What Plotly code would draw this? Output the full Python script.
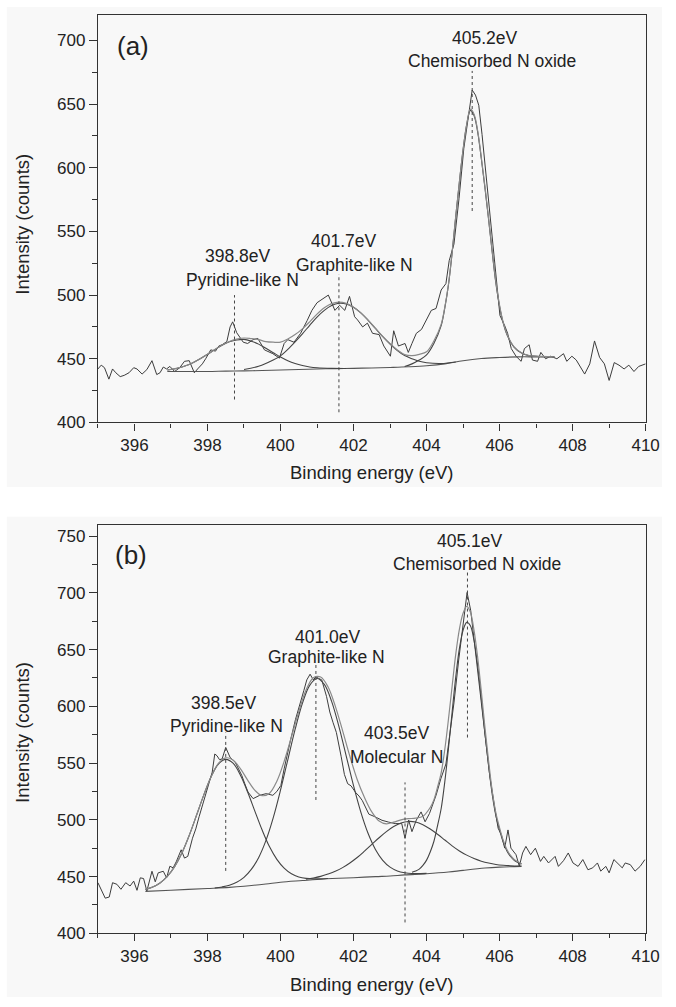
import plotly.graph_objects as go

# ---------------- Panel (a) data ----------------
RAW_A = [(395.0, 442), (395.09, 445), (395.18, 443), (395.3, 434), (395.4, 442), (395.49, 439),
         (395.61, 436), (395.72, 437), (395.85, 439), (395.98, 443), (396.07, 442), (396.21, 438),
         (396.34, 441.5), (396.48, 448.5), (396.61, 437.6), (396.7, 439), (396.79, 443.5), (396.88, 442),
         (396.97, 444), (397.1, 440), (397.24, 443), (397.37, 448), (397.5, 448.5), (397.64, 439),
         (397.73, 442), (397.86, 446), (397.95, 450), (398.09, 457), (398.22, 456), (398.31, 460),
         (398.4, 461), (398.53, 463.5), (398.62, 475), (398.69, 479), (398.8, 470.5), (398.98, 463),
         (399.1, 462), (399.25, 465), (399.38, 466), (399.56, 457), (399.79, 454), (399.97, 450.5),
         (400.1, 462), (400.2, 465), (400.37, 463), (400.55, 470), (400.73, 480), (400.86, 488),
         (401.0, 494), (401.15, 497), (401.31, 500), (401.49, 488), (401.62, 492), (401.76, 488),
         (401.89, 499), (402.03, 483), (402.11, 480.5), (402.25, 475), (402.38, 478), (402.52, 470),
         (402.7, 469), (402.83, 460), (403.01, 452), (403.1, 472), (403.23, 460), (403.41, 462),
         (403.5, 455), (403.6, 462), (403.72, 470), (403.86, 473), (403.99, 480.5), (404.13, 488),
         (404.26, 489.5), (404.4, 504), (404.53, 509), (404.62, 527), (404.75, 540), (404.89, 576),
         (405.02, 615), (405.16, 644), (405.25, 661), (405.34, 657), (405.43, 649), (405.52, 626),
         (405.65, 587), (405.78, 548.5), (405.92, 510), (406.01, 484), (406.14, 476), (406.22, 470),
         (406.32, 458), (406.45, 452), (406.59, 448), (406.68, 458), (406.81, 461), (406.9, 449),
         (407.04, 448), (407.13, 455), (407.26, 450), (407.4, 452), (407.57, 450), (407.75, 454),
         (407.84, 448), (407.98, 452), (408.1, 449), (408.2, 444), (408.33, 438), (408.47, 446),
         (408.6, 464), (408.74, 451), (408.87, 446), (409.0, 433), (409.14, 447), (409.27, 445),
         (409.41, 442), (409.54, 445), (409.68, 440), (409.81, 444), (410.0, 446)]

BASE_A = [(396.9, 440), (397.5, 440), (398.0, 440), (398.5, 440.3), (399.0, 440.5), (399.5, 440.8),
          (400.0, 441.2), (400.5, 441.6), (401.0, 442), (401.5, 442.3), (402.0, 442.5), (402.5, 442.8),
          (403.0, 443.2), (403.5, 443.7), (404.0, 444.5), (404.5, 446), (405.0, 448.5), (405.5, 450.2),
          (406.0, 451), (406.5, 451.5), (407.0, 451.5), (407.5, 451.5)]

PYR_A = [(396.9, 441.2), (397.2, 442.8), (397.4, 444.5), (397.6, 446.9), (397.8, 450), (398.0, 453.5),
         (398.2, 457.2), (398.4, 460.7), (398.6, 463.3), (398.8, 464.8), (399.0, 465.2), (399.2, 463.8),
         (399.4, 461.5), (399.6, 458.2), (399.8, 454.8), (400.0, 451.4), (400.2, 448.5), (400.4, 446.3),
         (400.6, 444.7), (400.8, 443.6), (401.0, 443.0), (401.4, 442.5), (401.8, 442.4)]

GRA_A = [(399.0, 441.6), (399.4, 444.1), (399.8, 449.0), (400.0, 452.3), (400.2, 457.4), (400.4, 463.3),
         (400.6, 469.6), (400.8, 476.3), (401.0, 482.7), (401.2, 488.0), (401.4, 491.8), (401.6, 493.6),
         (401.8, 493.1), (402.0, 490.4), (402.2, 486.0), (402.4, 480.2), (402.6, 473.8), (402.8, 467.4),
         (403.0, 461.6), (403.2, 456.5), (403.4, 452.5), (403.6, 450.1), (403.8, 448.0), (404.0, 446.9),
         (404.4, 446.3), (404.8, 447.5)]

OXI_A = [(403.4, 444), (403.6, 446), (403.8, 449), (404.0, 453), (404.2, 462), (404.4, 476), (404.5, 490),
         (404.6, 508), (404.7, 533), (404.8, 562), (404.9, 589), (405.0, 614), (405.1, 634), (405.2, 645),
         (405.3, 641), (405.4, 628), (405.5, 607), (405.6, 584), (405.7, 559), (405.8, 533), (405.9, 509),
         (406.0, 491), (406.1, 478), (406.2, 469), (406.4, 459), (406.6, 454.5), (406.8, 452.5),
         (407.0, 452), (407.5, 451.5)]

ENV_A = [(396.9, 441.2), (397.2, 442.8), (397.4, 444.5), (397.6, 446.9), (397.8, 450), (398.0, 453.5),
         (398.2, 457.2), (398.4, 460.8), (398.6, 463.6), (398.8, 465.4), (399.0, 466.3), (399.2, 465.8),
         (399.4, 465), (399.6, 463.5), (399.8, 463), (400.0, 463), (400.2, 465.5), (400.4, 469),
         (400.6, 473.5), (400.8, 479), (401.0, 485), (401.2, 490), (401.4, 493.3), (401.6, 494.5),
         (401.8, 493.5), (402.0, 490.5), (402.2, 486), (402.4, 480.3), (402.6, 473.9), (402.8, 467.6),
         (403.0, 461.9), (403.2, 456.9), (403.4, 453.3), (403.6, 452.5), (403.8, 453.5), (404.0, 455.5),
         (404.2, 464), (404.4, 477), (404.5, 490.5), (404.6, 508.5), (404.7, 533.5), (404.8, 562),
         (404.9, 589), (405.0, 614), (405.1, 634), (405.2, 646), (405.3, 642), (405.4, 629), (405.5, 608),
         (405.6, 585), (405.7, 560), (405.8, 534), (405.9, 510), (406.0, 492), (406.1, 478.5),
         (406.2, 469.5), (406.4, 459.3), (406.6, 454.7), (406.8, 452.6), (407.0, 452), (407.5, 451.5)]

DROP_A = [(398.74, 418, 500), (401.6, 408, 516.5), (405.25, 566, 676)]

LABELS_A = [("398.8eV", 398.84, 531), ("Pyridine-like N", 398.95, 511.6),
            ("401.7eV", 401.74, 542.7), ("Graphite-like N", 402.03, 524),
            ("405.2eV", 405.6, 701.8), ("Chemisorbed N oxide", 405.8, 683.6)]

# ---------------- Panel (b) data ----------------
RAW_B = [(395.0, 444.6), (395.09, 438.8), (395.2, 431), (395.31, 432), (395.4, 444.6), (395.52, 443.2),
         (395.63, 438.8), (395.76, 444.6), (395.88, 441.7), (395.98, 446), (396.07, 437.9), (396.16, 448.9),
         (396.25, 448.3), (396.34, 437.3), (396.48, 454.7), (396.57, 445.4), (396.65, 453.3), (396.79, 454.7),
         (396.88, 448.9), (396.97, 459.1), (397.06, 457.7), (397.15, 463.5), (397.28, 473.6), (397.37, 466.3),
         (397.46, 467.8), (397.59, 483.8), (397.68, 492), (397.77, 502.7), (397.86, 512), (397.95, 521.6),
         (398.04, 532), (398.13, 542), (398.2, 558), (398.26, 556.5), (398.33, 553), (398.4, 553.6),
         (398.5, 563.8), (398.56, 560), (398.62, 555), (398.76, 550.7), (398.85, 545), (398.94, 539.1),
         (399.02, 532), (399.11, 524.5), (399.25, 518.7), (399.43, 521.6), (399.61, 523.1), (399.79, 521.6),
         (399.9, 525), (400.01, 530.3), (400.1, 545), (400.19, 559.4), (400.28, 571), (400.41, 588.4),
         (400.55, 603), (400.64, 614), (400.72, 623.3), (400.81, 628.3), (400.9, 623.3), (400.97, 626),
         (401.04, 624.7), (401.13, 623.3), (401.26, 608.8), (401.35, 595), (401.44, 585.6), (401.53, 577),
         (401.66, 556), (401.75, 540), (401.84, 531.8), (401.93, 530), (402.06, 524), (402.15, 521),
         (402.24, 517), (402.42, 505), (402.6, 502.5), (402.78, 499.6), (402.96, 498), (403.14, 496.7),
         (403.32, 496.7), (403.41, 483.8), (403.51, 499.8), (403.6, 489.6), (403.72, 499.8), (403.85, 507),
         (403.96, 498.3), (404.08, 505.6), (404.26, 521.6), (404.39, 536.1), (404.53, 549.2), (404.61, 568),
         (404.75, 603), (404.88, 640.8), (405.02, 678.5), (405.11, 700.3), (405.21, 684.3), (405.33, 649.5),
         (405.46, 611.7), (405.6, 573.9), (405.73, 539), (405.87, 510), (405.96, 492.6), (406.05, 486.8),
         (406.14, 475.1), (406.23, 491.1), (406.31, 475.1), (406.45, 469.3), (406.54, 459.1), (406.63, 470.8),
         (406.72, 476.6), (406.85, 469.3), (406.98, 475), (407.12, 463.4), (407.21, 467.8), (407.34, 462),
         (407.52, 467.8), (407.61, 459), (407.75, 464), (407.88, 470.8), (408.01, 462), (408.15, 459),
         (408.28, 465), (408.42, 456), (408.55, 457.7), (408.68, 462), (408.77, 454.8), (408.91, 459),
         (409.0, 453.3), (409.13, 465), (409.22, 462), (409.36, 457.7), (409.44, 462), (409.58, 460.5),
         (409.71, 454.8), (409.85, 459), (409.98, 465)]

BASE_B = [(396.3, 437), (397.0, 438), (398.0, 439.5), (398.6, 440.5), (399.0, 441.5), (399.6, 443.5),
          (400.0, 445), (400.6, 446.5), (401.0, 447.5), (401.6, 448.5), (402.0, 449), (402.6, 450),
          (403.0, 450.5), (403.4, 451.5), (404.0, 452.5), (404.6, 454), (405.0, 455.5), (405.6, 457.5),
          (406.0, 458.3), (406.6, 459)]

PYR_B = [(396.3, 438.7), (396.5, 440.8), (396.7, 444.4), (396.9, 450.2), (397.1, 458.8), (397.3, 470.8),
         (397.5, 486.3), (397.7, 504), (397.9, 522), (398.1, 538), (398.3, 549.2), (398.5, 553.3),
         (398.7, 549.9), (398.9, 539.6), (399.1, 524.5), (399.3, 507.5), (399.5, 490.8), (399.7, 476.2),
         (399.9, 465.2), (400.1, 457.5), (400.3, 452.5), (400.5, 449.7), (400.7, 448.4), (400.9, 448),
         (401.3, 448.3)]

GRA_B = [(398.2, 439.9), (398.4, 440.9), (398.6, 442.4), (398.8, 445), (399.0, 449.3), (399.2, 456.3),
         (399.4, 466.7), (399.6, 481.7), (399.8, 501.7), (400.0, 526.1), (400.2, 552.9), (400.4, 579.6),
         (400.6, 602.7), (400.8, 618.5), (401.0, 624.5), (401.2, 619.3), (401.4, 604.4), (401.6, 582.1),
         (401.8, 556.2), (402.0, 530.1), (402.2, 506.8), (402.4, 487.9), (402.6, 473.9), (402.8, 464.3),
         (403.0, 458.3), (403.2, 455), (403.4, 453.4), (403.6, 452.7), (404.0, 452.8)]

MOL_B = [(400.7, 447.6), (400.9, 448.8), (401.1, 450.2), (401.3, 452.2), (401.5, 454.6), (401.7, 457.9),
         (401.9, 462), (402.1, 466.8), (402.3, 472.4), (402.5, 478.3), (402.7, 484.2), (402.9, 489.6),
         (403.1, 494.1), (403.3, 497.2), (403.5, 498.6), (403.7, 498.1), (403.9, 495.7), (404.1, 491.9),
         (404.3, 487.3), (404.5, 482.2), (404.7, 477.1), (404.9, 472.6), (405.1, 468.9), (405.3, 465.9),
         (405.5, 463.6), (405.7, 461.9), (405.9, 460.7), (406.1, 460), (406.3, 459.6), (406.6, 459.3)]

OXI_B = [(403.6, 453.8), (403.7, 455), (403.8, 456.6), (403.9, 459.8), (404.0, 464.5), (404.1, 471.7),
         (404.2, 480.9), (404.3, 494.7), (404.4, 510), (404.5, 533.7), (404.6, 563), (404.7, 594.8),
         (404.8, 626), (404.9, 651), (405.0, 667), (405.1, 674), (405.2, 671), (405.3, 658), (405.4, 636),
         (405.5, 607), (405.6, 576), (405.7, 547.5), (405.8, 522), (405.9, 503.5), (406.0, 491),
         (406.1, 480.4), (406.2, 472.6), (406.3, 467.7), (406.4, 464.3), (406.5, 462.5), (406.6, 461.2)]

ENV_B = [(396.3, 438.7), (396.5, 440.8), (396.7, 444.4), (396.9, 450.2), (397.1, 458.8), (397.3, 470.8),
         (397.5, 486.3), (397.7, 504), (397.9, 522), (398.1, 538), (398.3, 549.8), (398.5, 554.6),
         (398.7, 552.7), (398.9, 545.1), (399.1, 535), (399.3, 526), (399.5, 521.3), (399.7, 523.5),
         (399.9, 534), (400.1, 551.5), (400.3, 573.2), (400.5, 595.3), (400.7, 614.3), (400.9, 625.2),
         (401.1, 625.8), (401.3, 617.2), (401.5, 600.2), (401.7, 578.6), (401.9, 556), (402.1, 535.6),
         (402.3, 519.7), (402.5, 507), (402.7, 499), (402.9, 496.5), (403.1, 498), (403.3, 500),
         (403.5, 501), (403.7, 501.5), (403.9, 503.2), (404.1, 510.9), (404.2, 517.6), (404.3, 528.8),
         (404.4, 541.3), (404.5, 562.2), (404.6, 588.7), (404.7, 617.7), (404.8, 646), (404.9, 668),
         (405.0, 682), (405.1, 688), (405.2, 683), (405.3, 667), (405.4, 643), (405.5, 613), (405.6, 581),
         (405.7, 551.5), (405.8, 525), (405.9, 506), (406.0, 493), (406.1, 482), (406.2, 473.8),
         (406.3, 468.6), (406.4, 465), (406.5, 463), (406.6, 461.2)]

DROP_B = [(398.5, 455, 577), (400.97, 517.5, 638), (403.41, 409.6, 533), (405.12, 572.5, 718)]

LABELS_B = [("398.5eV", 398.44, 603), ("Pyridine-like N", 398.53, 582.7),
            ("401.0eV", 401.3, 661.3), ("Graphite-like N", 401.25, 643.8),
            ("403.5eV", 403.18, 576.9), ("Molecular N", 403.18, 555),
            ("405.1eV", 405.2, 745.6), ("Chemisorbed N oxide", 405.38, 725.2)]

PANEL_TAGS = [("(a)", 395.96, 695.3), ("(b)", 395.9, 733.3)]
X_RANGE = [395, 410]
Y_RANGES = [[400, 720], [400, 760]]
X_TITLE = "Binding energy (eV)"
Y_TITLE = "Intensity (counts)"

# ---------------- Figure ----------------
W, H = 676, 1007
FONT = "Liberation Sans, Arial, Helvetica, sans-serif"
TXT = "#222222"
fig = go.Figure()


def xs(pairs):
    return [p[0] for p in pairs]


def ys(pairs):
    return [p[1] for p in pairs]


panels = [
    dict(xa="x", ya="y", raw=RAW_A, base=BASE_A, comps=[PYR_A, GRA_A, OXI_A], env=ENV_A,
         drops=DROP_A, labels=LABELS_A),
    dict(xa="x2", ya="y2", raw=RAW_B, base=BASE_B, comps=[PYR_B, GRA_B, MOL_B, OXI_B], env=ENV_B,
         drops=DROP_B, labels=LABELS_B),
]

for p in panels:
    fig.add_trace(go.Scatter(x=xs(p["raw"]), y=ys(p["raw"]), mode="lines", xaxis=p["xa"], yaxis=p["ya"],
                             line=dict(color="#3c3c3c", width=1), showlegend=False, hoverinfo="skip"))
    fig.add_trace(go.Scatter(x=xs(p["base"]), y=ys(p["base"]), mode="lines", xaxis=p["xa"], yaxis=p["ya"],
                             line=dict(color="#555555", width=1.1, shape="spline"), showlegend=False,
                             hoverinfo="skip"))
    for c in p["comps"]:
        fig.add_trace(go.Scatter(x=xs(c), y=ys(c), mode="lines", xaxis=p["xa"], yaxis=p["ya"],
                                 line=dict(color="#444444", width=1.1, shape="spline"), showlegend=False,
                                 hoverinfo="skip"))
    fig.add_trace(go.Scatter(x=xs(p["env"]), y=ys(p["env"]), mode="lines", xaxis=p["xa"], yaxis=p["ya"],
                             line=dict(color="#8a8a8a", width=1.2, shape="spline"), showlegend=False,
                             hoverinfo="skip"))
    for (dx, y0, y1) in p["drops"]:
        fig.add_trace(go.Scatter(x=[dx, dx], y=[y0, y1], mode="lines", xaxis=p["xa"], yaxis=p["ya"],
                                 line=dict(color="#444444", width=1, dash="dot"), showlegend=False,
                                 hoverinfo="skip"))

annotations = []
for p in panels:
    for (t, ax, ay) in p["labels"]:
        annotations.append(dict(text=t, x=ax, y=ay, xref=p["xa"], yref=p["ya"], showarrow=False,
                                xanchor="center", yanchor="middle",
                                font=dict(family=FONT, size=17.5, color=TXT)))
for (t, ax, ay), p in zip(PANEL_TAGS, panels):
    annotations.append(dict(text=t, x=ax, y=ay, xref=p["xa"], yref=p["ya"], showarrow=False,
                            xanchor="center", yanchor="middle",
                            font=dict(family=FONT, size=26, color=TXT)))

# axis titles (paper coordinates)
for (ycen_px, xcen_px) in [(226.7, 477.0), (740.0, 994.0)]:
    annotations.append(dict(text=Y_TITLE, x=22.7 / W, y=1 - ycen_px / H, xref="paper", yref="paper",
                            showarrow=False, textangle=-90, xanchor="center", yanchor="middle",
                            font=dict(family=FONT, size=18.5, color=TXT)))
    annotations.append(dict(text=X_TITLE, x=379.6 / W, y=1 - xcen_px / H, xref="paper", yref="paper",
                            showarrow=False, xanchor="center", yanchor="middle",
                            font=dict(family=FONT, size=18.5, color=TXT)))

xdom = [100 / W, 659.3 / W]
ydom_a = [1 - 426.7 / H, 1 - 15 / H]
ydom_b = [1 - 942.7 / H, 1 - 530 / H]

axis_common = dict(showline=True, mirror=True, linecolor="#333333", linewidth=1.3, showgrid=False,
                   zeroline=False, ticks="outside", tickcolor="#333333", tickwidth=1.2,
                   tickfont=dict(family=FONT, size=17, color=TXT))

xaxis_cfg = dict(axis_common, range=X_RANGE, tick0=396, dtick=2, ticklen=7,
                 minor=dict(ticks="outside", dtick=1, tick0=395, ticklen=4, tickcolor="#333333",
                            tickwidth=1.2, showgrid=False))


def yaxis_cfg(r, dom, anchor):
    return dict(axis_common, range=r, domain=dom, anchor=anchor, tick0=400, dtick=50, ticklen=8,
                minor=dict(ticks="outside", dtick=25, tick0=400, ticklen=5, tickcolor="#333333",
                           tickwidth=1.2, showgrid=False))


shapes = [
    dict(type="rect", xref="paper", yref="paper", x0=7 / W, x1=1, y0=1 - 492 / H, y1=1 - 7 / H,
         fillcolor="#f8f8f8", line=dict(width=0), layer="below"),
    dict(type="rect", xref="paper", yref="paper", x0=7 / W, x1=1, y0=0, y1=1 - 522 / H,
         fillcolor="#f8f8f8", line=dict(width=0), layer="below"),
]

fig.update_layout(
    width=W, height=H, margin=dict(l=0, r=0, t=0, b=0),
    paper_bgcolor="#ffffff", plot_bgcolor="#f8f8f8",
    xaxis=dict(xaxis_cfg, domain=xdom, anchor="y"),
    yaxis=yaxis_cfg(Y_RANGES[0], ydom_a, "x"),
    xaxis2=dict(xaxis_cfg, domain=xdom, anchor="y2"),
    yaxis2=yaxis_cfg(Y_RANGES[1], ydom_b, "x2"),
    annotations=annotations, shapes=shapes, showlegend=False,
    font=dict(family=FONT, color=TXT),
)

fig.write_html("out.html")
